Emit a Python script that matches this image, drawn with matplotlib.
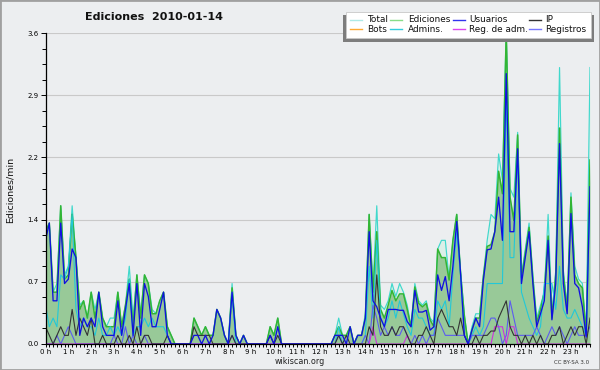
import matplotlib
matplotlib.use("Agg")
import matplotlib.pyplot as plt
from matplotlib.patches import Rectangle
from matplotlib.lines import Line2D
import numpy as np

plt.rcParams['font.family'] = ['DejaVu Sans']

# ---------------- data (edits per minute, 10-minute bins) ----------------
hour_labels = [f"{h} h" for h in range(24)]
y_ticks = [0, 0.72, 1.44, 2.16, 2.88, 3.6]
y_tick_labels = ["0.0", "0.7", "1.4", "2.2", "2.9", "3.6"]

total = [
    1.3, 1.4, 0.6, 0.7, 1.6, 0.8,
    0.9, 1.6, 1.0, 0.45, 0.5, 0.3,
    0.6, 0.4, 0.6, 0.3, 0.2, 0.3,
    0.3, 0.6, 0.2, 0.45, 0.9, 0.3,
    0.8, 0.35, 0.8, 0.7, 0.4, 0.35,
    0.5, 0.6, 0.2, 0.1, 0.0, 0.0,
    0.0, 0.0, 0.0, 0.3, 0.2, 0.1,
    0.2, 0.1, 0.1, 0.4, 0.3, 0.1,
    0.0, 0.7, 0.1, 0.0, 0.1, 0.0,
    0.0, 0.0, 0.0, 0.0, 0.0, 0.2,
    0.1, 0.3, 0.0, 0.0, 0.0, 0.0,
    0.0, 0.0, 0.0, 0.0, 0.0, 0.0,
    0.0, 0.0, 0.0, 0.0, 0.1, 0.3,
    0.1, 0.1, 0.2, 0.0, 0.1, 0.1,
    0.35, 1.5, 0.65, 1.6, 0.45, 0.4,
    0.5, 0.7, 0.55, 0.7, 0.6, 0.45,
    0.2, 0.7, 0.5, 0.45, 0.5, 0.3,
    0.25, 1.1, 1.2, 1.2, 0.75, 1.2,
    1.5, 0.85, 0.35, 0.0, 0.2, 0.35,
    0.35, 0.8, 1.2, 1.5, 1.45, 2.2,
    1.9, 3.63, 1.8, 1.7, 2.45, 0.8,
    1.1, 1.4, 0.8, 0.3, 0.45, 0.6,
    1.5, 0.35, 0.85, 3.2, 0.85, 0.45,
    1.75, 0.9, 0.75, 0.7, 0.15, 3.2,
]

ediciones = [
    1.3, 1.4, 0.6, 0.6, 1.6, 0.75,
    0.8, 1.5, 1.0, 0.4, 0.5, 0.3,
    0.6, 0.3, 0.6, 0.3, 0.2, 0.2,
    0.2, 0.6, 0.2, 0.45, 0.75, 0.2,
    0.8, 0.3, 0.8, 0.7, 0.35, 0.35,
    0.5, 0.6, 0.2, 0.1, 0.0, 0.0,
    0.0, 0.0, 0.0, 0.3, 0.2, 0.1,
    0.2, 0.1, 0.1, 0.4, 0.3, 0.1,
    0.0, 0.65, 0.1, 0.0, 0.1, 0.0,
    0.0, 0.0, 0.0, 0.0, 0.0, 0.2,
    0.1, 0.3, 0.0, 0.0, 0.0, 0.0,
    0.0, 0.0, 0.0, 0.0, 0.0, 0.0,
    0.0, 0.0, 0.0, 0.0, 0.1, 0.2,
    0.1, 0.1, 0.2, 0.0, 0.1, 0.1,
    0.3, 1.5, 0.6, 1.3, 0.4, 0.3,
    0.45, 0.62, 0.5, 0.58, 0.58, 0.4,
    0.2, 0.66, 0.47, 0.43, 0.47, 0.28,
    0.2, 1.1, 1.0, 1.0, 0.74, 1.2,
    1.5, 0.82, 0.32, 0.0, 0.16, 0.3,
    0.3, 0.78, 1.13, 1.15, 1.3, 2.0,
    1.74, 3.6, 1.7, 1.43, 2.42, 0.77,
    1.05, 1.35, 0.75, 0.25, 0.4, 0.6,
    1.25, 0.3, 0.8, 2.5, 0.8, 0.4,
    1.7, 0.8, 0.7, 0.65, 0.1, 2.13,
]

usuarios = [
    1.2, 1.4, 0.5, 0.5, 1.4, 0.7,
    0.75, 1.1, 1.0, 0.1, 0.3, 0.2,
    0.3, 0.2, 0.6, 0.2, 0.1, 0.1,
    0.1, 0.5, 0.1, 0.4, 0.7, 0.1,
    0.7, 0.1, 0.7, 0.55, 0.2, 0.2,
    0.4, 0.6, 0.1, 0.0, 0.0, 0.0,
    0.0, 0.0, 0.0, 0.1, 0.1, 0.0,
    0.1, 0.0, 0.1, 0.4, 0.3, 0.1,
    0.0, 0.6, 0.1, 0.0, 0.1, 0.0,
    0.0, 0.0, 0.0, 0.0, 0.0, 0.1,
    0.0, 0.2, 0.0, 0.0, 0.0, 0.0,
    0.0, 0.0, 0.0, 0.0, 0.0, 0.0,
    0.0, 0.0, 0.0, 0.0, 0.1, 0.1,
    0.1, 0.0, 0.2, 0.0, 0.1, 0.1,
    0.3, 1.3, 0.5, 0.43, 0.3, 0.2,
    0.4, 0.4, 0.4, 0.39, 0.39, 0.26,
    0.2, 0.62, 0.37, 0.37, 0.39, 0.16,
    0.2, 0.8, 0.62, 0.78, 0.5, 0.9,
    1.42, 0.82, 0.1, 0.0, 0.16, 0.3,
    0.2, 0.74, 1.09, 1.1, 1.3, 1.7,
    1.2, 3.13, 1.3, 1.3, 2.26, 0.7,
    1.0, 1.3, 0.7, 0.2, 0.35, 0.5,
    1.2, 0.28, 0.7, 2.32, 0.7, 0.35,
    1.51, 0.7, 0.65, 0.43, 0.08, 1.82,
]

ip = [
    0.2, 0.1, 0.0, 0.1, 0.2, 0.1,
    0.1, 0.4, 0.1, 0.3, 0.2, 0.1,
    0.3, 0.0, 0.0, 0.1, 0.0, 0.0,
    0.0, 0.1, 0.0, 0.0, 0.1, 0.0,
    0.2, 0.0, 0.1, 0.1, 0.0, 0.0,
    0.0, 0.0, 0.1, 0.0, 0.0, 0.0,
    0.0, 0.0, 0.0, 0.2, 0.1, 0.1,
    0.1, 0.1, 0.0, 0.0, 0.0, 0.0,
    0.0, 0.1, 0.0, 0.0, 0.0, 0.0,
    0.0, 0.0, 0.0, 0.0, 0.0, 0.1,
    0.0, 0.1, 0.0, 0.0, 0.0, 0.0,
    0.0, 0.0, 0.0, 0.0, 0.0, 0.0,
    0.0, 0.0, 0.0, 0.0, 0.0, 0.1,
    0.0, 0.1, 0.0, 0.0, 0.0, 0.0,
    0.0, 0.2, 0.1, 0.8, 0.2, 0.1,
    0.1, 0.2, 0.1, 0.2, 0.2, 0.1,
    0.0, 0.0, 0.1, 0.1, 0.2, 0.1,
    0.0, 0.3, 0.4, 0.3, 0.2, 0.2,
    0.1, 0.3, 0.1, 0.0, 0.0, 0.1,
    0.0, 0.1, 0.1, 0.15, 0.15, 0.3,
    0.4, 0.5, 0.2, 0.1, 0.1, 0.0,
    0.1, 0.0, 0.1, 0.0, 0.1, 0.0,
    0.0, 0.1, 0.1, 0.2, 0.0, 0.1,
    0.2, 0.1, 0.2, 0.2, 0.0, 0.3,
]

bots = [0.0] * 144

admins = [
    0.45, 0.2, 0.3, 0.2, 0.8, 0.75,
    0.9, 1.5, 0.4, 0.2, 0.3, 0.2,
    0.2, 0.1, 0.3, 0.1, 0.1, 0.2,
    0.1, 0.2, 0.1, 0.3, 0.75, 0.1,
    0.2, 0.2, 0.3, 0.2, 0.3, 0.2,
    0.2, 0.2, 0.1, 0.0, 0.0, 0.0,
    0.0, 0.0, 0.0, 0.0, 0.0, 0.0,
    0.0, 0.0, 0.0, 0.0, 0.0, 0.0,
    0.0, 0.6, 0.0, 0.0, 0.0, 0.0,
    0.0, 0.0, 0.0, 0.0, 0.0, 0.0,
    0.0, 0.0, 0.0, 0.0, 0.0, 0.0,
    0.0, 0.0, 0.0, 0.0, 0.0, 0.0,
    0.0, 0.0, 0.0, 0.0, 0.0, 0.2,
    0.0, 0.0, 0.0, 0.0, 0.0, 0.0,
    0.1, 0.9, 0.3, 1.2, 0.3, 0.2,
    0.3, 0.5, 0.3, 0.5, 0.35, 0.2,
    0.1, 0.4, 0.3, 0.3, 0.2, 0.1,
    0.1, 0.5, 0.4, 0.5, 0.2, 0.8,
    1.3, 0.8, 0.1, 0.0, 0.1, 0.2,
    0.1, 0.2, 0.7, 0.7, 0.7, 0.7,
    0.7, 2.9, 1.0, 1.0, 2.2, 0.6,
    0.45, 0.3, 0.2, 0.1, 0.2, 0.7,
    0.7, 0.7, 0.4, 0.9, 0.4, 0.3,
    0.3, 0.4, 0.3, 0.2, 0.1, 1.7,
]

reg_adm = [
    0.0, 0.0, 0.0, 0.0, 0.0, 0.0,
    0.0, 0.0, 0.0, 0.0, 0.0, 0.0,
    0.0, 0.0, 0.0, 0.0, 0.0, 0.0,
    0.0, 0.0, 0.0, 0.0, 0.0, 0.0,
    0.0, 0.0, 0.0, 0.0, 0.0, 0.0,
    0.0, 0.0, 0.0, 0.0, 0.0, 0.0,
    0.0, 0.0, 0.0, 0.0, 0.0, 0.0,
    0.0, 0.0, 0.0, 0.0, 0.0, 0.0,
    0.0, 0.0, 0.0, 0.0, 0.0, 0.0,
    0.0, 0.0, 0.0, 0.0, 0.0, 0.0,
    0.0, 0.0, 0.0, 0.0, 0.0, 0.0,
    0.0, 0.0, 0.0, 0.0, 0.0, 0.0,
    0.0, 0.0, 0.0, 0.0, 0.0, 0.0,
    0.0, 0.0, 0.0, 0.0, 0.0, 0.0,
    0.0, 0.0, 0.2, 0.0, 0.0, 0.0,
    0.0, 0.0, 0.0, 0.0, 0.0, 0.1,
    0.0, 0.0, 0.0, 0.0, 0.0, 0.0,
    0.0, 0.0, 0.0, 0.0, 0.0, 0.0,
    0.0, 0.0, 0.0, 0.0, 0.0, 0.0,
    0.0, 0.0, 0.0, 0.0, 0.2, 0.2,
    0.2, 0.0, 0.2, 0.2, 0.0, 0.0,
    0.0, 0.0, 0.0, 0.0, 0.0, 0.0,
    0.0, 0.0, 0.0, 0.0, 0.0, 0.0,
    0.0, 0.0, 0.0, 0.0, 0.0, 0.0,
]

registros = [
    0.0, 0.0, 0.0, 0.1, 0.0, 0.1,
    0.2, 0.1, 0.0, 0.0, 0.0, 0.0,
    0.0, 0.0, 0.0, 0.0, 0.0, 0.0,
    0.1, 0.0, 0.0, 0.2, 0.0, 0.1,
    0.0, 0.0, 0.1, 0.0, 0.0, 0.0,
    0.0, 0.0, 0.0, 0.0, 0.0, 0.0,
    0.0, 0.0, 0.0, 0.0, 0.0, 0.0,
    0.0, 0.0, 0.0, 0.0, 0.0, 0.0,
    0.0, 0.1, 0.0, 0.0, 0.0, 0.0,
    0.0, 0.0, 0.0, 0.0, 0.0, 0.0,
    0.0, 0.0, 0.0, 0.0, 0.0, 0.0,
    0.0, 0.0, 0.0, 0.0, 0.0, 0.0,
    0.0, 0.0, 0.0, 0.0, 0.0, 0.1,
    0.0, 0.0, 0.0, 0.0, 0.0, 0.0,
    0.1, 0.0, 0.45, 0.3, 0.1, 0.2,
    0.1, 0.2, 0.1, 0.1, 0.2, 0.1,
    0.0, 0.1, 0.0, 0.1, 0.0, 0.1,
    0.1, 0.3, 0.2, 0.1, 0.1, 0.1,
    0.1, 0.1, 0.1, 0.0, 0.1, 0.1,
    0.1, 0.1, 0.2, 0.3, 0.3, 0.2,
    0.0, 0.1, 0.5, 0.3, 0.1, 0.1,
    0.1, 0.1, 0.1, 0.2, 0.1, 0.0,
    0.1, 0.2, 0.1, 0.2, 0.1, 0.0,
    0.1, 0.2, 0.1, 0.1, 0.1, 0.2,
]

legend_names = ["Total", "Ediciones", "Usuarios", "IP",
                "Bots", "Admins.", "Reg. de adm.", "Registros"]

# ---------------- styling ----------------
W, H = 600, 370
BG = '#eceef0'
C_TOTAL = '#40d8cc'
C_EDIT = '#33b533'
C_EDIT_FILL = '#98c998'
C_TOTAL_FILL = '#dcefe8'
C_USER = '#1010e0'
C_IP = '#333333'
C_BOTS = '#ffaa33'
C_ADMIN = '#22c8d8'
C_REGADM = '#cc33dd'
C_REG = '#5c5cf0'
legend_colors = ['#aeeae6', '#88dd88', '#3333ee', '#333333',
                 '#ffaa33', '#33ccdd', '#dd44ee', '#7777ff']

fig = plt.figure(figsize=(W / 100, H / 100), dpi=100, facecolor=BG)
ax = fig.add_axes([45.5 / W, 1 - 344 / H, (590 - 45.5) / W, (344 - 33) / H])
ax.set_facecolor(BG)

x = np.arange(len(total))

ax.fill_between(x, total, color=C_TOTAL_FILL, lw=0, zorder=1)
ax.fill_between(x, ediciones, color=C_EDIT_FILL, lw=0, zorder=1.5)

ax.plot(x, total, color=C_TOTAL, lw=0.85, zorder=2)
ax.plot(x, ediciones, color=C_EDIT, lw=1.1, zorder=2.1)
ax.plot(x, admins, color=C_ADMIN, lw=0.8, zorder=2.2)
ax.plot(x, registros, color=C_REG, lw=0.8, zorder=2.3)
ax.plot(x, reg_adm, color=C_REGADM, lw=0.8, zorder=2.4)
ax.plot(x, ip, color=C_IP, lw=0.8, zorder=2.5)
ax.plot(x, usuarios, color=C_USER, lw=0.95, zorder=2.6)

ax.set_xlim(0, len(total) - 1)
ax.set_ylim(0, 3.6)

for s in ['top', 'right']:
    ax.spines[s].set_visible(False)
for s in ['left', 'bottom']:
    ax.spines[s].set_color('black')
    ax.spines[s].set_linewidth(0.9)
    ax.spines[s].set_zorder(5)

ax.set_xticks(np.arange(0, len(total), 6))
ax.set_xticklabels(hour_labels)
ax.set_xticks(np.arange(len(total)), minor=True)
ax.tick_params(axis='x', which='both', direction='out', length=2.4,
               width=0.7, pad=1.2, labelsize=5, colors='black')

ax.set_yticks(y_ticks)
ax.set_yticklabels(y_tick_labels)
ax.set_yticks(np.arange(0, 3.61, 0.18), minor=True)
ax.tick_params(axis='y', which='major', direction='out', length=3.6,
               width=0.7, pad=1.2, labelsize=5)
ax.tick_params(axis='y', which='minor', direction='out', length=3.0,
               width=0.7)

ax.yaxis.grid(True, which='major', color='#c9c9c9', lw=0.8)
ax.set_axisbelow(True)

# titles / labels
fig.text(154 / W, 1 - 17 / H, "Ediciones  2010-01-14", ha='center',
         va='center', fontsize=8, fontweight='bold', color='#111111')
fig.text(10 / W, 1 - 190 / H, "Ediciones/min", rotation=90, ha='center',
         va='center', fontsize=6.8, color='#111111')
fig.text(300 / W, 1 - 361 / H, "wikiscan.org", ha='center', va='center',
         fontsize=5.8, color='#222222')
fig.text(589 / W, 1 - 362 / H, "CC BY-SA 3.0", ha='right', va='center',
         fontsize=4, color='#333333')

# manual legend
def fx(px):
    return px / W

def fy(py):
    return 1 - py / H

fig.add_artist(Rectangle((fx(343), fy(41.5)), (593.5 - 343) / W, (41.5 - 15) / H,
                         transform=fig.transFigure, facecolor='#7d7d7d',
                         edgecolor='none', zorder=10))
fig.add_artist(Rectangle((fx(346), fy(38.3)), (590.7 - 346) / W, (38.3 - 11.7) / H,
                         transform=fig.transFigure, facecolor='white',
                         edgecolor='#c8c8c8', lw=0.6, zorder=11))

swatch_x = [350, 390, 453, 529]
text_x = [367, 408, 469, 545]
row_y = [19.5, 29.2]
for k, (name, col) in enumerate(zip(legend_names, legend_colors)):
    r, c = divmod(k, 4)
    y = row_y[r]
    fig.add_artist(Line2D([fx(swatch_x[c]), fx(swatch_x[c] + 12)], [fy(y), fy(y)],
                          transform=fig.transFigure, color=col, lw=1.0, zorder=12))
    fig.text(fx(text_x[c]), fy(y), name, ha='left', va='center',
             fontsize=6.4, color='#111111', zorder=12)

# image border
fig.add_artist(Rectangle((0, 0), 1, 1, transform=fig.transFigure, fill=False,
                         edgecolor='#a0a0a0', lw=2.0, zorder=20))

fig.savefig("out.png", dpi=100, facecolor=BG)
